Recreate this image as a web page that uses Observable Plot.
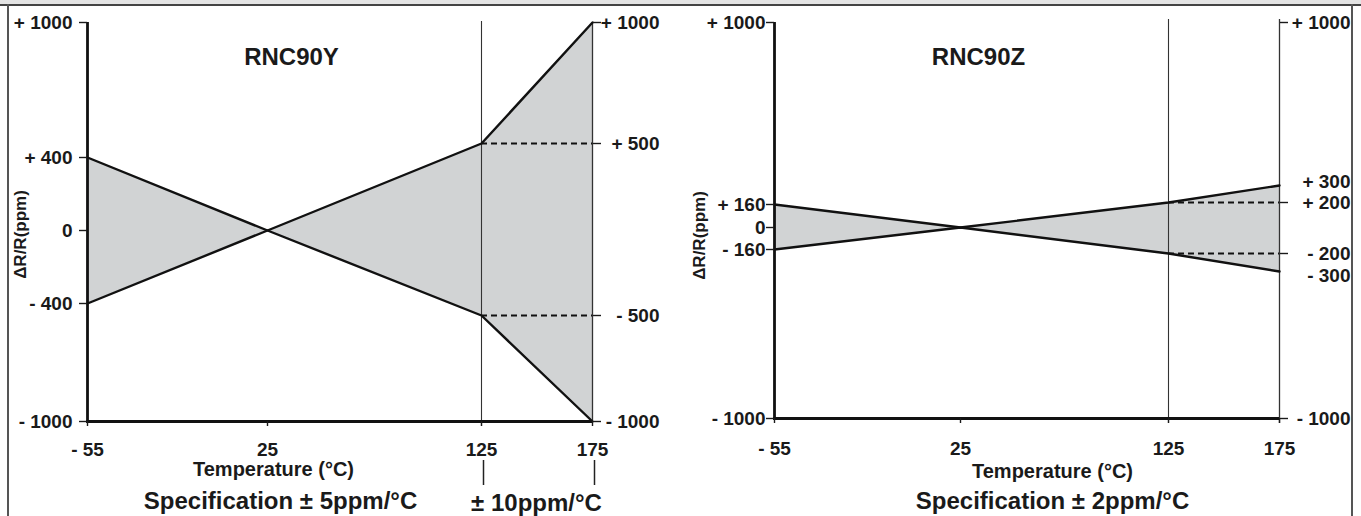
<!DOCTYPE html>
<html><head><meta charset="utf-8">
<script src="https://cdn.jsdelivr.net/npm/d3@7"></script>
<script src="https://cdn.jsdelivr.net/npm/@observablehq/plot@0.6"></script>
<style>
body{margin:0;background:#fff;}
#wrap{position:relative;width:1361px;height:516px;overflow:hidden;background:#fff;font-family:"Liberation Sans",Arial,sans-serif;}
#band{position:absolute;left:0;top:0;width:1361px;height:4px;background:#e4e4e4;border-bottom:2px solid #444;}
#lb{position:absolute;left:7px;top:4px;width:2px;height:512px;background:#555;}
#rb{position:absolute;left:1351px;top:4px;width:2px;height:512px;background:#555;}
.panel{position:absolute;top:0;}
</style></head>
<body>
<div id="wrap"><div id="band"></div><div id="lb"></div><div id="rb"></div>
<div class="panel" id="p1" style="left:0;width:690px"></div>
<div class="panel" id="p2" style="left:690px;width:671px"></div></div>
<script>
// ---- data ----
const temps = [-55, 25, 125, 175];
const yUpper = [400, 0, 500, 1000];
const yLower = [-400, 0, -500, -1000];
const zUpper = [160, 0, 200, 300];
const zLower = [-160, 0, -200, -300];
const yLeftTicks = [1000, 400, 0, -400, -1000];
const yRightTicks = [1000, 500, -500, -1000];
const yDash = [500, -500];
const zLeftTicks = [1000, 160, 0, -160, -1000];
const zRightTicks = [1000, 200, -200, -1000];
const zDash = [200, -200];
const titles = ["RNC90Y", "RNC90Z"];
const yLabel = "ΔR/R(ppm)";
const xLabel = "Temperature (°C)";
const specY = "Specification ± 5ppm/°C";
const specY2 = "± 10ppm/°C";
const specZ = "Specification ± 2ppm/°C";

const fmt = d => d > 0 ? "+ " + d : d < 0 ? "- " + (-d) : "0";
const fmtX = d => d < 0 ? "- " + (-d) : String(d);
const FONT = "Liberation Sans, Arial, Helvetica, sans-serif";
const FILL = "#d1d3d4";
const T = {textAnchor: "middle", lineAnchor: "middle", fontWeight: "bold"};

function rows(up, lo) { return temps.map((t, i) => ({t, hi: up[i], lo: lo[i]})); }
function pts(vals) { return temps.map((t, i) => ({t, v: vals[i]})); }

const baseStyle = {fontFamily: FONT, fontSize: "19px", fontWeight: "bold", color: "#1a1a1a", background: "transparent", overflow: "visible"};

// ---- left panel: RNC90Y ----
const W1 = 690, H = 516;
const p1 = Plot.plot({
  width: W1, height: H,
  marginLeft: 87, marginRight: W1 - 592, marginTop: 22, marginBottom: H - 421,
  style: baseStyle,
  x: {type: "linear", domain: [-55, 25, 125, 175], range: [87, 267, 481, 592], axis: null},
  y: {type: "linear", domain: [-1000, -500, -400, 0, 400, 500, 1000], range: [421, 315, 303, 230, 157, 143, 22], axis: null},
  marks: [
    Plot.areaY(rows(yUpper, yLower), {x: "t", y1: "lo", y2: "hi", fill: FILL}),
    Plot.ruleY(yDash, {x1: 125, x2: 175, stroke: "#111", strokeWidth: 2.2, strokeDasharray: "6,4"}),
    Plot.ruleX([125], {stroke: "#333", strokeWidth: 1.1, insetTop: -1, insetBottom: -5}),
    Plot.ruleX([175], {stroke: "#333", strokeWidth: 1.3}),
    Plot.line(pts(yUpper), {x: "t", y: "v", stroke: "#111", strokeWidth: 2.4}),
    Plot.line(pts(yLower), {x: "t", y: "v", stroke: "#111", strokeWidth: 2.4}),
    Plot.ruleX([-55], {stroke: "#111", strokeWidth: 2.8}),
    Plot.ruleY([-1000], {stroke: "#111", strokeWidth: 2.8, insetLeft: -1}),
    Plot.axisY(yLeftTicks, {anchor: "left", tickSize: 8, tickPadding: 7, tickFormat: fmt, label: null, strokeWidth: 1.4}),
    Plot.axisY(yRightTicks, {anchor: "right", tickSize: 8, tickPadding: 59, textAnchor: "end", tickFormat: fmt, label: null, strokeWidth: 1.4}),
    Plot.axisX(temps, {anchor: "bottom", tickSize: 5, tickPadding: 16, tickFormat: fmtX, label: null, strokeWidth: 1.4}),
    Plot.text([yLabel], {...T, frameAnchor: "left", y: () => 0, dx: 20 - 87, dy: 4, rotate: -90, fontSize: 17}),
    Plot.text([titles[0]], {...T, frameAnchor: "top-left", dx: 291 - 87, dy: 57 - 22, fontSize: 24}),
    Plot.text([xLabel], {...T, frameAnchor: "top-left", dx: 273 - 87, dy: 469 - 22, fontSize: 20}),
    Plot.text([specY], {...T, frameAnchor: "top-left", dx: 280 - 87, dy: 501 - 22, fontSize: 24}),
    Plot.text([specY2], {...T, frameAnchor: "top-left", dx: 536 - 87, dy: 503 - 22, fontSize: 24}),
    Plot.ruleX([125, 175], {dx: 2, dy: 438, insetBottom: 374, stroke: "#222", strokeWidth: 1.5})
  ]
});
document.getElementById("p1").appendChild(p1);

// ---- right panel: RNC90Z ----
const W2 = 671;
const p2 = Plot.plot({
  width: W2, height: H,
  marginLeft: 84, marginRight: W2 - 589, marginTop: 22, marginBottom: H - 418,
  style: baseStyle,
  x: {type: "linear", domain: [-55, 25, 125, 175], range: [84, 270, 478, 589], axis: null},
  y: {type: "linear", domain: [-1000, -300, -200, -160, 0, 160, 200, 300, 1000], range: [418, 271, 253, 249, 227, 204, 202, 185, 22], axis: null},
  marks: [
    Plot.areaY(rows(zUpper, zLower), {x: "t", y1: "lo", y2: "hi", fill: FILL}),
    Plot.ruleY(zDash, {x1: 125, x2: 175, stroke: "#111", strokeWidth: 2.2, strokeDasharray: "6,4"}),
    Plot.ruleX([125], {stroke: "#333", strokeWidth: 1.1, insetTop: -3, insetBottom: -5}),
    Plot.ruleX([175], {stroke: "#333", strokeWidth: 1.3, insetTop: -3, insetBottom: -5}),
    Plot.line(pts(zUpper), {x: "t", y: "v", stroke: "#111", strokeWidth: 2.4}),
    Plot.line(pts(zLower), {x: "t", y: "v", stroke: "#111", strokeWidth: 2.4}),
    Plot.ruleX([-55], {stroke: "#111", strokeWidth: 2.8}),
    Plot.ruleY([-1000], {stroke: "#111", strokeWidth: 2.8, insetLeft: -1}),
    Plot.axisY(zLeftTicks, {anchor: "left", tickSize: 8, tickPadding: 1, tickFormat: fmt, label: null, strokeWidth: 1.4}),
    Plot.axisY(zRightTicks, {anchor: "right", tickSize: 8, tickPadding: 63, textAnchor: "end", tickFormat: fmt, label: null, strokeWidth: 1.4}),
    Plot.axisY([300], {anchor: "right", tickSize: 0, tickPadding: 71, textAnchor: "end", tickFormat: fmt, label: null, dy: -4}),
    Plot.axisY([-300], {anchor: "right", tickSize: 0, tickPadding: 71, textAnchor: "end", tickFormat: fmt, label: null, dy: 4}),
    Plot.axisX(temps, {anchor: "bottom", tickSize: 5, tickPadding: 18, tickFormat: fmtX, label: null, strokeWidth: 1.4}),
    Plot.text([yLabel], {...T, frameAnchor: "left", y: () => 0, dx: 9 - 84, dy: 8, rotate: -90, fontSize: 17}),
    Plot.text([titles[1]], {...T, frameAnchor: "top-left", dx: 288 - 84, dy: 57 - 22, fontSize: 24}),
    Plot.text([xLabel], {...T, frameAnchor: "top-left", dx: 362 - 84, dy: 471 - 22, fontSize: 20}),
    Plot.text([specZ], {...T, frameAnchor: "top-left", dx: 362 - 84, dy: 501 - 22, fontSize: 24})
  ]
});
document.getElementById("p2").appendChild(p2);
</script>
</body></html>
